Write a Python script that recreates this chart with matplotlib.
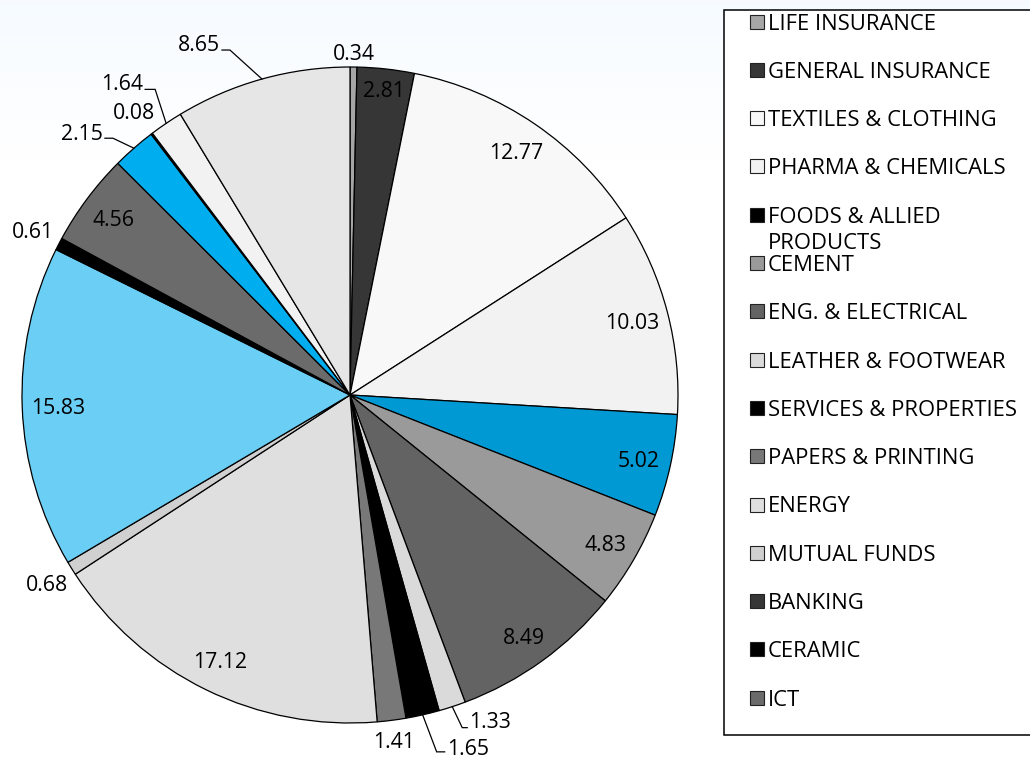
import matplotlib
matplotlib.use("Agg")
import matplotlib.pyplot as plt
import numpy as np
from matplotlib.patches import Rectangle

plt.rcParams['font.family'] = ['Open Sans', 'DejaVu Sans']

# ---- data ----
values = [0.34, 2.81, 12.77, 10.03, 5.02, 4.83, 8.49, 1.33, 1.65, 1.41,
          17.12, 0.68, 15.83, 0.61, 4.56, 2.15, 0.08, 1.64, 8.65]
slice_colors = ['#a6a6a6', '#363636', '#f8f8f8', '#f2f2f2', '#0099d4', '#9a9a9a',
                '#636363', '#dadada', '#000000', '#787878', '#dfdfdf', '#d0d0d0',
                '#6bcef5', '#000000', '#6b6b6b', '#00aeef', '#000000', '#f2f2f2',
                '#e6e6e6']
legend_labels = ['LIFE INSURANCE', 'GENERAL INSURANCE', 'TEXTILES & CLOTHING',
                 'PHARMA & CHEMICALS', 'FOODS & ALLIED\nPRODUCTS', 'CEMENT',
                 'ENG. & ELECTRICAL', 'LEATHER & FOOTWEAR', 'SERVICES & PROPERTIES',
                 'PAPERS & PRINTING', 'ENERGY', 'MUTUAL FUNDS', 'BANKING',
                 'CERAMIC', 'ICT']
legend_colors = ['#a6a6a6', '#363636', '#f8f8f8', '#f2f2f2', '#000000', '#9a9a9a',
                 '#636363', '#dadada', '#000000', '#787878', '#dfdfdf', '#d0d0d0',
                 '#363636', '#000000', '#6b6b6b']

# ---- label styling (positions relative to slice) ----
label_r = [1.046, 0.94, 0.90, 0.89, 0.90, 0.90, 0.905, None, None, 1.06,
           0.90, 1.087, 0.89, 1.09, 0.90, None, 1.087, None, None]
# leader: (elbow dx px, elbow dy px, horizontal run px, text dy px)
leaders = {7: (10, -21, 5, 8), 8: (14, -37, 8, 5), 15: (-21, 10, -8, 6),
           17: (-11, 34, -10, 7), 18: (-32, 29, -8, 7)}

W, H = 1030, 760
fig = plt.figure(figsize=(W / 100, H / 100), dpi=100)

# faint background gradient
bg = fig.add_axes([0, 0, 1, 1], zorder=-10)
grad = np.ones((H, 1, 3))
top = np.array([0.965, 0.984, 1.0])
n = 160
for i in range(n):
    t = i / n
    grad[i, 0, :] = top * (1 - t) + t
bg.imshow(grad, aspect='auto', extent=[0, 1, 0, 1])
bg.axis('off')

CX, CY, R = 350, 395, 328
ax = fig.add_axes([(CX - R) / W, (H - CY - R) / H, 2 * R / W, 2 * R / H])
wedges, _ = ax.pie(values, colors=slice_colors, startangle=90, counterclock=False,
                   radius=1, wedgeprops=dict(edgecolor='black', linewidth=0.9))
ax.set_xlim(-1, 1)
ax.set_ylim(-1, 1)
ax.axis('off')
ax.patch.set_visible(False)

px = 1.0 / R
fs = 15.3
for i, (w, v) in enumerate(zip(wedges, values)):
    ang = np.deg2rad((w.theta1 + w.theta2) / 2)
    txt = f"{v:.2f}"
    if i in leaders:
        ex, ey, hr, tdy = leaders[i]
        x0, y0 = np.cos(ang), np.sin(ang)
        x1, y1 = x0 + ex * px, y0 + ey * px
        x2 = x1 + hr * px
        ax.plot([x0, x1, x2], [y0, y1, y1], color='black', lw=0.9,
                clip_on=False, solid_joinstyle='miter')
        ha = 'left' if hr > 0 else 'right'
        tx = x2 + (2 if hr > 0 else -2) * px
        ax.text(tx, y1 + tdy * px, txt, ha=ha, va='center_baseline',
                fontsize=fs, clip_on=False)
    else:
        r = label_r[i]
        ax.text(r * np.cos(ang), r * np.sin(ang), txt, ha='center',
                va='center_baseline', fontsize=fs, clip_on=False)

# legend box drawn manually
box = Rectangle((724 / W, 1 - 735 / H), (1045 - 724) / W, (735 - 10) / H,
                transform=fig.transFigure, facecolor='white', edgecolor='black',
                lw=1.1, zorder=5)
fig.add_artist(box)
for j, (lab, col) in enumerate(zip(legend_labels, legend_colors)):
    yc = 21.5 + j * 48.3
    sq = Rectangle((750 / W, 1 - (yc + 7) / H), 14 / W, 14 / H,
                   transform=fig.transFigure, facecolor=col, edgecolor='#222222',
                   lw=0.8, zorder=6)
    fig.add_artist(sq)
    for k, line in enumerate(lab.split('\n')):
        fig.text(768 / W, 1 - (yc + 8 + 26 * k) / H, line, fontsize=15.8,
                 va='baseline', ha='left', zorder=7)

fig.savefig('out.png', dpi=100)
